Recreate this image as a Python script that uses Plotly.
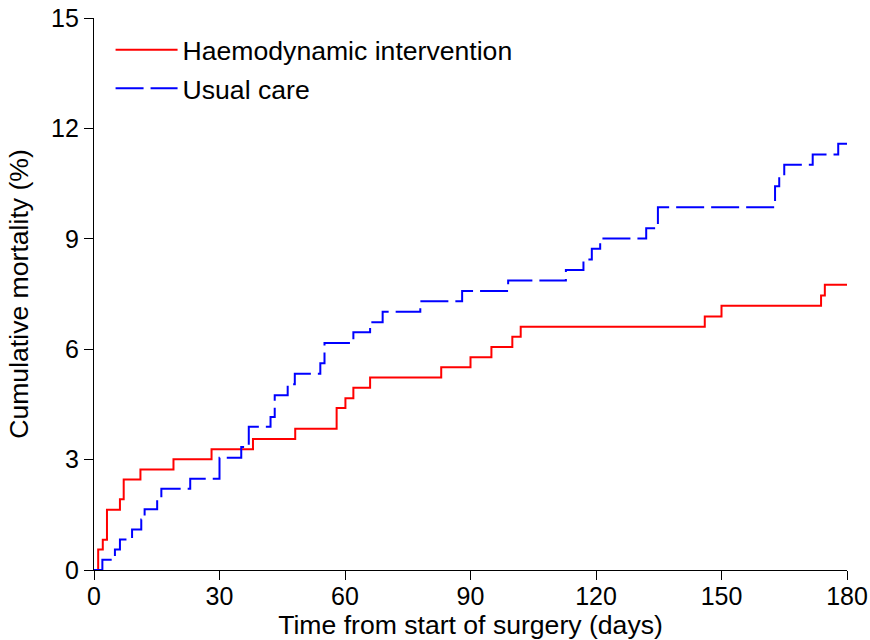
import plotly.graph_objects as go

# Haemodynamic intervention (cumulative mortality %, step function)
red_days = [0, 1.0, 2.1, 3.1, 6.2, 7.1, 11.1, 19.0, 28.1, 38.0, 48.1, 58.0, 60.1, 62.0,
            66.0, 83.0, 90.0, 95.0, 100.0, 102.0, 146.0, 150.0, 173.8, 174.7, 180]
red_vals = [0, 0.56, 0.82, 1.64, 1.92, 2.46, 2.73, 3.01, 3.28, 3.56, 3.84, 4.40, 4.67, 4.95,
            5.23, 5.51, 5.78, 6.06, 6.34, 6.61, 6.89, 7.18, 7.46, 7.75, 7.75]

# Usual care
blue_days = [0, 2.0, 5.0, 6.2, 9.1, 11.3, 12.1, 15.1, 16.1, 23.0, 30.0, 35.2, 37.0, 42.2,
             43.2, 46.3, 48.0, 54.1, 55.1, 62.0, 66.0, 69.0, 78.0, 88.0, 99.0, 112.8, 117.0,
             119.0, 121.0, 132.0, 134.8, 162.8, 163.8, 165.0, 171.8, 177.9, 180]
blue_vals = [0, 0.28, 0.56, 0.83, 1.10, 1.37, 1.65, 1.93, 2.21, 2.48, 3.05, 3.34, 3.89, 4.16,
             4.75, 5.05, 5.33, 5.62, 6.17, 6.46, 6.73, 7.02, 7.30, 7.58, 7.87, 8.15, 8.44,
             8.73, 9.01, 9.29, 9.86, 10.43, 10.72, 11.01, 11.29, 11.58, 11.58]

x_ticks = [0, 30, 60, 90, 120, 150, 180]
y_ticks = [0, 3, 6, 9, 12, 15]

FONT = "Liberation Sans, Arial, Helvetica, sans-serif"

fig = go.Figure()
fig.add_trace(go.Scatter(x=red_days, y=red_vals, mode="lines", line_shape="hv",
                         name="Haemodynamic intervention", legendgroup="a",
                         line=dict(color="#ff0000", width=2)))
fig.add_trace(go.Scatter(x=blue_days, y=blue_vals, mode="lines", line_shape="hv",
                         name="Usual care", legendgroup="b",
                         line=dict(color="#0000ff", width=2, dash="28px,7px")))

axis_common = dict(showgrid=False, zeroline=False, showline=True, linecolor="black",
                   linewidth=1.3, ticks="outside", ticklen=9, tickwidth=1.3,
                   tickcolor="black", automargin=False,
                   tickfont=dict(size=25, color="black", family=FONT))

fig.update_layout(
    width=870, height=640,
    margin=dict(l=93.5, r=23, t=18, b=69.5),
    paper_bgcolor="white", plot_bgcolor="white",
    font=dict(family=FONT, color="black"),
    xaxis=dict(range=[0, 180], tickvals=x_ticks, ticklabelstandoff=-5,
               title=dict(text="Time from start of surgery (days)",
                          font=dict(size=26.6, family=FONT)),
               **axis_common),
    yaxis=dict(range=[0, 15], tickvals=y_ticks,
               title=dict(text="Cumulative mortality (%)",
                          font=dict(size=26.6, family=FONT), standoff=14),
               **axis_common),
    legend=dict(x=0.022, y=0.9855, xanchor="left", yanchor="top",
                bgcolor="rgba(0,0,0,0)", borderwidth=0,
                font=dict(size=26.6, family=FONT, color="black"),
                itemwidth=62, tracegroupgap=1),
    showlegend=True,
)

fig.write_html("out.html")
